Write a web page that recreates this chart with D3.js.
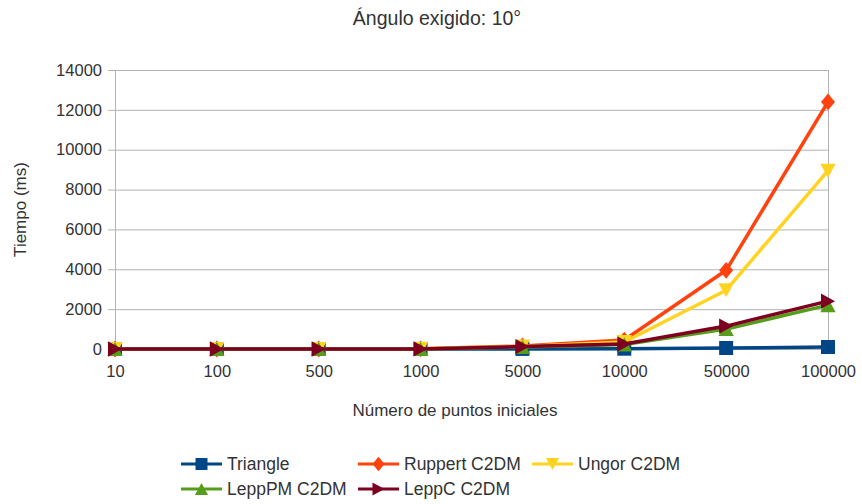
<!DOCTYPE html>
<html>
<head>
<meta charset="utf-8">
<script src="https://cdn.jsdelivr.net/npm/d3@7"></script>
<style>
    body { margin: 0; background: #fff; }
    text { font-family: "Liberation Sans", Arial, sans-serif; fill: #333; }
</style>
</head>
<body>
<div id="chart"></div>
<script>
'use strict';

// Data.
var categories = ['10', '100', '500', '1000', '5000', '10000', '50000', '100000'];
var triangle   = [0, 0, 0, 0, 5, 15, 50, 100];
var ruppert    = [0, 0, 0, 10, 150, 450, 3950, 12400];
var ungor      = [0, 0, 0, 10, 130, 350, 2950, 8950];
var leppPM     = [0, 0, 0, 5, 100, 230, 1000, 2200];
var leppC      = [0, 0, 0, 5, 120, 250, 1150, 2400];
var yTicks     = [0, 2000, 4000, 6000, 8000, 10000, 12000, 14000];

var series = [
    {name: 'Triangle',     color: '#004586', symbol: 'square',   values: triangle},
    {name: 'Ruppert C2DM', color: '#ff420e', symbol: 'diamond',  values: ruppert},
    {name: 'Ungor C2DM',   color: '#ffd320', symbol: 'down',     values: ungor},
    {name: 'LeppPM C2DM',  color: '#579d1c', symbol: 'up',       values: leppPM},
    {name: 'LeppC C2DM',   color: '#7e0021', symbol: 'right',    values: leppC}
];

var width  = 862,
    height = 504,
    margin = {top: 70, right: 34, bottom: 155, left: 115};

var svg = d3.select('#chart').append('svg')
    .attr('width', width)
    .attr('height', height);

var x = d3.scalePoint()
    .domain(categories)
    .range([margin.left, width - margin.right]);

var y = d3.scaleLinear()
    .domain([0, 14000])
    .range([height - margin.bottom, margin.top]);

// Grid, with small ticks sticking out to the left of the axis.
svg.append('g')
    .selectAll('line')
    .data(yTicks)
    .enter().append('line')
    .attr('x1', margin.left - 7)
    .attr('x2', width - margin.right)
    .attr('y1', function (d) { return y(d) + 0.5; })
    .attr('y2', function (d) { return y(d) + 0.5; })
    .attr('stroke', '#b3b3b3')
    .attr('stroke-width', 1);

// Left and right frame lines.
[margin.left, width - margin.right].forEach(function (px) {
    svg.append('line')
        .attr('x1', px + 0.5).attr('x2', px + 0.5)
        .attr('y1', margin.top).attr('y2', height - margin.bottom)
        .attr('stroke', '#b3b3b3');
});

// Y axis labels.
var yAxis = svg.append('g')
    .attr('transform', 'translate(' + (margin.left - 7) + ',0)')
    .call(d3.axisLeft(y).tickValues(yTicks).tickFormat(d3.format('d')).tickSize(0).tickPadding(6));
yAxis.select('.domain').remove();
yAxis.selectAll('text')
    .style('font-size', '16.5px')
    .attr('fill', '#333');

// X axis labels.
var xAxis = svg.append('g')
    .attr('transform', 'translate(0,' + (height - margin.bottom) + ')')
    .call(d3.axisBottom(x).tickSize(0).tickPadding(16));
xAxis.select('.domain').remove();
xAxis.selectAll('text')
    .style('font-size', '16.5px')
    .attr('fill', '#333');

// Titles.
svg.append('text')
    .attr('x', 437).attr('y', 25)
    .attr('text-anchor', 'middle')
    .style('font-size', '19.5px')
    .text('Ángulo exigido: 10°');

svg.append('text')
    .attr('x', 455).attr('y', 416)
    .attr('text-anchor', 'middle')
    .style('font-size', '17px')
    .text('Número de puntos iniciales');

svg.append('text')
    .attr('transform', 'translate(26,' + ((margin.top + height - margin.bottom) / 2) + ') rotate(-90)')
    .attr('text-anchor', 'middle')
    .style('font-size', '17px')
    .text('Tiempo (ms)');

function symbolPath(type, s) {
    switch (type) {
        case 'square':
            return 'M' + (-s) + ',' + (-s) + 'H' + s + 'V' + s + 'H' + (-s) + 'Z';
        case 'diamond':
            return 'M0,' + (-s * 1.2) + 'L' + s + ',0L0,' + (s * 1.2) + 'L' + (-s) + ',0Z';
        case 'down':
            return 'M' + (-s * 1.1) + ',' + (-s) + 'H' + (s * 1.1) + 'L0,' + s + 'Z';
        case 'up':
            return 'M' + (-s * 1.1) + ',' + s + 'H' + (s * 1.1) + 'L0,' + (-s) + 'Z';
        case 'right':
            return 'M' + (-s) + ',' + (-s * 1.1) + 'V' + (s * 1.1) + 'L' + s + ',0Z';
    }
}

var line = d3.line()
    .x(function (d, i) { return x(categories[i]); })
    .y(function (d) { return y(d); });

// Series lines and markers.
series.forEach(function (s) {
    var g = svg.append('g');
    g.append('path')
        .datum(s.values)
        .attr('d', line)
        .attr('fill', 'none')
        .attr('stroke', s.color)
        .attr('stroke-width', 3.5)
        .attr('stroke-linejoin', 'round');
    g.selectAll('path.marker')
        .data(s.values)
        .enter().append('path')
        .attr('class', 'marker')
        .attr('d', symbolPath(s.symbol, 7))
        .attr('transform', function (d, i) {
            return 'translate(' + x(categories[i]) + ',' + y(d) + ')';
        })
        .attr('fill', s.color);
});

// Legend.
var legendPos = [
    {x: 181, y: 464}, {x: 358, y: 464}, {x: 532, y: 464},
    {x: 181, y: 489}, {x: 358, y: 489}
];

series.forEach(function (s, i) {
    var p = legendPos[i],
        g = svg.append('g').attr('transform', 'translate(' + p.x + ',' + p.y + ')');
    g.append('line')
        .attr('x1', 0).attr('x2', 41)
        .attr('stroke', s.color)
        .attr('stroke-width', 3);
    g.append('path')
        .attr('d', symbolPath(s.symbol, 6))
        .attr('transform', 'translate(20.5,0)')
        .attr('fill', s.color);
    g.append('text')
        .attr('x', 46)
        .attr('dy', '0.35em')
        .style('font-size', '17.5px')
        .text(s.name);
});
</script>
</body>
</html>
